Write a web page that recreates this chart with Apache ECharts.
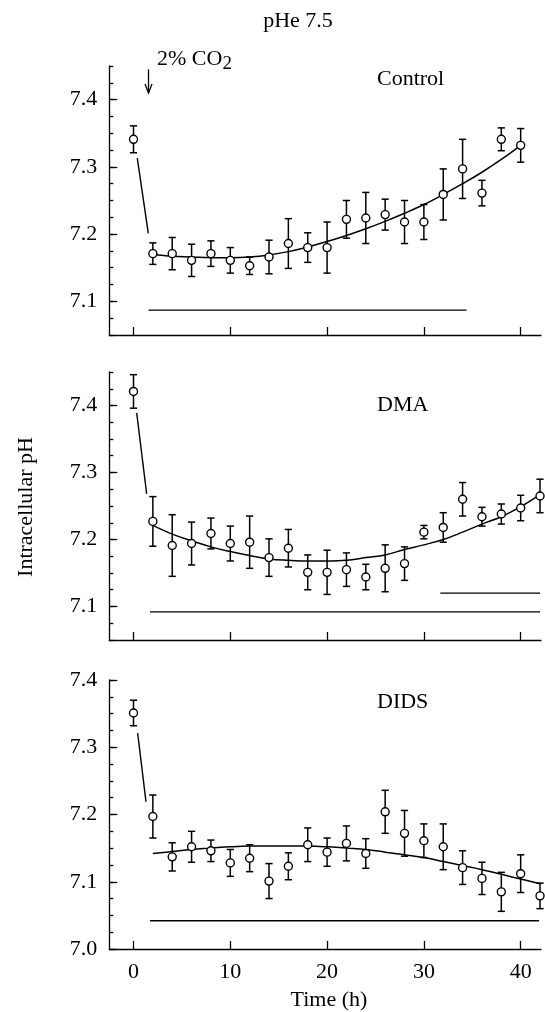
<!DOCTYPE html>
<html>
<head>
<meta charset="utf-8">
<title>pHe 7.5</title>
<script src="https://cdn.jsdelivr.net/npm/echarts@6/dist/echarts.min.js"></script>
<style>
  html, body { margin: 0; padding: 0; background: #fff; }
</style>
</head>
<body>
<div id="main" style="width:545px;height:1012px;"></div>
<script>
// ---- data ----
const controlTimes = [0, 2, 4, 6, 8, 10, 12, 14, 16, 18, 20, 22, 24, 26, 28, 30, 32, 34, 36, 38, 40];
const controlMean = [7.341, 7.171, 7.171, 7.161, 7.171, 7.161, 7.153, 7.166, 7.186, 7.180, 7.180,
                     7.222, 7.224, 7.229, 7.218, 7.218, 7.259, 7.297, 7.261, 7.341, 7.332];
const controlErr = [0.020, 0.016, 0.024, 0.024, 0.019, 0.019, 0.013, 0.025, 0.037, 0.022, 0.038,
                    0.028, 0.038, 0.023, 0.032, 0.026, 0.038, 0.044, 0.019, 0.017, 0.025];

const dmaTimes = [0, 2, 4, 6, 8, 10, 12, 14, 16, 18, 20, 22, 24, 26, 28, 30, 32, 34, 36, 38, 40, 42];
const dmaMean = [7.421, 7.227, 7.191, 7.194, 7.209, 7.194, 7.196, 7.173, 7.187, 7.151, 7.151,
                 7.155, 7.144, 7.157, 7.164, 7.211, 7.218, 7.260, 7.234, 7.238, 7.247, 7.265];
const dmaErr = [0.025, 0.037, 0.046, 0.032, 0.023, 0.026, 0.039, 0.028, 0.028, 0.026, 0.033,
                0.025, 0.019, 0.035, 0.025, 0.010, 0.022, 0.025, 0.014, 0.015, 0.019, 0.025];

const didsTimes = dmaTimes;
const didsMean = [7.351, 7.197, 7.137, 7.152, 7.146, 7.128, 7.135, 7.101, 7.123, 7.155, 7.144,
                  7.157, 7.142, 7.204, 7.172, 7.161, 7.152, 7.121, 7.105, 7.085, 7.112, 7.079];
const didsErr = [0.019, 0.032, 0.021, 0.023, 0.016, 0.020, 0.020, 0.026, 0.020, 0.025, 0.021,
                 0.026, 0.022, 0.032, 0.034, 0.025, 0.034, 0.025, 0.024, 0.029, 0.028, 0.019];

// fitted curves (read at 2 h steps)
const controlFitTimes = [2, 4, 6, 8, 10, 12, 14, 16, 18, 20, 22, 24, 26, 28, 30, 32, 34, 36, 38, 40];
const controlFit = [7.170, 7.167, 7.166, 7.165, 7.165, 7.166, 7.169, 7.174, 7.181, 7.189,
                    7.198, 7.208, 7.219, 7.231, 7.244, 7.259, 7.275, 7.292, 7.311, 7.332];
const fitTimes = [2, 4, 6, 8, 10, 12, 14, 16, 18, 20, 22, 24, 26, 28, 30, 32, 34, 36, 38, 40, 42];
const dmaFit = [7.221, 7.208, 7.198, 7.189, 7.182, 7.176, 7.171, 7.169, 7.168, 7.168, 7.169,
                7.173, 7.177, 7.185, 7.192, 7.200, 7.211, 7.223, 7.234, 7.249, 7.267];
const didsFit = [7.142, 7.145, 7.148, 7.150, 7.152, 7.153, 7.153, 7.153, 7.153, 7.152, 7.150,
                 7.148, 7.144, 7.140, 7.136, 7.130, 7.124, 7.118, 7.111, 7.104, 7.097];

// short drop segments after the first point
const controlDrop = [[0.39, 7.313], [1.53, 7.201]];
const dmaDrop = [[0.33, 7.389], [1.36, 7.268]];
const didsDrop = [[0.43, 7.321], [1.29, 7.219]];

// horizontal bars under the data
const controlBar = [[1.55, 7.087], [34.4, 7.087]];
const dmaBar = [[1.7, 7.092], [42.0, 7.092]];
const dmaBar2 = [[31.7, 7.120], [42.0, 7.120]];
const didsBar = [[1.7, 7.042], [41.9, 7.042]];

// CO2 arrow: [time, top, bottom]
const co2Arrow = [[1.55, 7.445, 7.41]];

const xTicks = [0, 10, 20, 30, 40];
const yRanges = [[7.05, 7.45], [7.05, 7.45], [7.0, 7.4]];
const yMajor = [[7.1, 7.2, 7.3, 7.4], [7.1, 7.2, 7.3, 7.4], [7.0, 7.1, 7.2, 7.3, 7.4]];

const FONT = "'Liberation Serif', 'Times New Roman', serif";
const BLACK = '#000';

const chart = echarts.init(document.getElementById('main'), null, {renderer: 'canvas'});

const grids = [
    {left: 109.3, top: 66, width: 431.7, height: 269},
    {left: 109.3, top: 372, width: 431.7, height: 268},
    {left: 109.3, top: 680, width: 431.7, height: 269}
];

const xAxes = grids.map(function (g, i) {
    return {
        type: 'value', gridIndex: i, min: -2.5, max: 42.1, position: 'bottom',
        axisLine: {onZero: false, lineStyle: {color: BLACK, width: 1.3}},
        axisTick: {inside: true, length: 8, customValues: xTicks, lineStyle: {color: BLACK, width: 1.3}},
        axisLabel: {show: i === 2, customValues: xTicks, color: BLACK, fontFamily: FONT, fontSize: 22, margin: 12},
        splitLine: {show: false}
    };
});

const yAxes = [];
grids.forEach(function (g, i) {
    // minor ticks + labels
    yAxes.push({
        type: 'value', gridIndex: i, position: 'left', min: yRanges[i][0], max: yRanges[i][1], interval: 0.025,
        axisLine: {show: true, onZero: false, lineStyle: {color: BLACK, width: 1.3}},
        axisTick: {inside: true, length: 4, lineStyle: {color: BLACK, width: 1.3}},
        axisLabel: {
            color: BLACK, fontFamily: FONT, fontSize: 22, margin: 12,
            formatter: function (v) {
                const r = Math.round(v * 10);
                return Math.abs(v * 10 - r) < 1e-6 ? (r / 10).toFixed(1) : '';
            }
        },
        splitLine: {show: false}
    });
    // longer major ticks
    yAxes.push({
        type: 'value', gridIndex: i, position: 'left', offset: 0, min: yRanges[i][0], max: yRanges[i][1],
        axisLine: {show: false, onZero: false},
        axisTick: {inside: true, length: 8, customValues: yMajor[i], lineStyle: {color: BLACK, width: 1.3}},
        axisLabel: {show: false},
        splitLine: {show: false}
    });
});

function errorBars(params, api) {
    const x = api.value(0);
    const top = api.coord([x, api.value(2)]);
    const bot = api.coord([x, api.value(1)]);
    const w = 3.6;
    const st = {stroke: BLACK, lineWidth: 1.5};
    return {
        type: 'group',
        children: [
            {type: 'line', shape: {x1: top[0], y1: top[1], x2: bot[0], y2: bot[1]}, style: st},
            {type: 'line', shape: {x1: top[0] - w, y1: top[1], x2: top[0] + w, y2: top[1]}, style: st},
            {type: 'line', shape: {x1: bot[0] - w, y1: bot[1], x2: bot[0] + w, y2: bot[1]}, style: st}
        ]
    };
}

function arrowItem(params, api) {
    const x = api.value(0);
    const a = api.coord([x, api.value(1)]);
    const b = api.coord([x, api.value(2)]);
    const st = {stroke: BLACK, lineWidth: 1.3, fill: null};
    return {
        type: 'group',
        children: [
            {type: 'line', shape: {x1: a[0], y1: a[1], x2: b[0], y2: b[1]}, style: st},
            {type: 'polyline', shape: {points: [[b[0] - 3.5, b[1] - 9], [b[0], b[1]], [b[0] + 3.5, b[1] - 9]]}, style: st}
        ]
    };
}

function pairs(xs, ys) {
    return xs.map(function (x, i) { return [x, ys[i]]; });
}

function panelSeries(i, times, mean, err, fitT, fit, drop, bars) {
    const xi = i, yi = i * 2;
    const out = [];
    out.push({
        type: 'custom', xAxisIndex: xi, yAxisIndex: yi, clip: false, z: 2,
        renderItem: errorBars,
        data: times.map(function (t, k) { return [t, mean[k] - err[k], mean[k] + err[k]]; })
    });
    out.push({
        type: 'line', xAxisIndex: xi, yAxisIndex: yi, smooth: 0.4, showSymbol: false, z: 3,
        lineStyle: {color: BLACK, width: 1.5},
        data: pairs(fitT, fit)
    });
    out.push({
        type: 'line', xAxisIndex: xi, yAxisIndex: yi, showSymbol: false, z: 3,
        lineStyle: {color: BLACK, width: 1.4},
        data: drop
    });
    bars.forEach(function (b) {
        out.push({
            type: 'line', xAxisIndex: xi, yAxisIndex: yi, showSymbol: false, z: 3,
            lineStyle: {color: BLACK, width: 1.4},
            data: b
        });
    });
    out.push({
        type: 'scatter', xAxisIndex: xi, yAxisIndex: yi, clip: false, z: 5,
        symbol: 'circle', symbolSize: 8,
        itemStyle: {color: '#fff', borderColor: BLACK, borderWidth: 1.4, opacity: 1},
        data: pairs(times, mean)
    });
    return out;
}

let series = [];
series = series.concat(panelSeries(0, controlTimes, controlMean, controlErr, controlFitTimes, controlFit, controlDrop, [controlBar]));
series = series.concat(panelSeries(1, dmaTimes, dmaMean, dmaErr, fitTimes, dmaFit, dmaDrop, [dmaBar, dmaBar2]));
series = series.concat(panelSeries(2, didsTimes, didsMean, didsErr, fitTimes, didsFit, didsDrop, [didsBar]));
series.push({
    type: 'custom', xAxisIndex: 0, yAxisIndex: 0, clip: false, renderItem: arrowItem, data: co2Arrow
});

const txt = function (x, y, text, extra) {
    return Object.assign({
        type: 'text', x: x, y: y,
        style: {text: text, fill: BLACK, font: '22px ' + FONT, textVerticalAlign: 'middle'}
    }, extra || {});
};

const option = {
    animation: false,
    backgroundColor: '#fff',
    grid: grids,
    xAxis: xAxes,
    yAxis: yAxes,
    series: series,
    graphic: [
        txt(298, 21, 'pHe 7.5', {style: {text: 'pHe 7.5', fill: BLACK, font: '22px ' + FONT, textAlign: 'center', textVerticalAlign: 'middle'}}),
        txt(377, 79, 'Control'),
        txt(377, 405, 'DMA'),
        txt(377, 702, 'DIDS'),
        {
            type: 'text', x: 157, y: 59,
            style: {
                text: '{a|2% CO}{b|2}', fill: BLACK, textVerticalAlign: 'middle',
                rich: {
                    a: {font: '22px ' + FONT, fill: BLACK},
                    b: {font: '19px ' + FONT, fill: BLACK, padding: [10, 0, 0, 0]}
                }
            }
        },
        txt(329, 1000, 'Time (h)', {style: {text: 'Time (h)', fill: BLACK, font: '22px ' + FONT, textAlign: 'center', textVerticalAlign: 'middle'}}),
        {
            type: 'text', x: 26, y: 507, rotation: Math.PI / 2,
            style: {text: 'Intracellular pH', fill: BLACK, font: '22px ' + FONT, textAlign: 'center', textVerticalAlign: 'middle'}
        }
    ]
};

chart.setOption(option);
</script>
</body>
</html>
